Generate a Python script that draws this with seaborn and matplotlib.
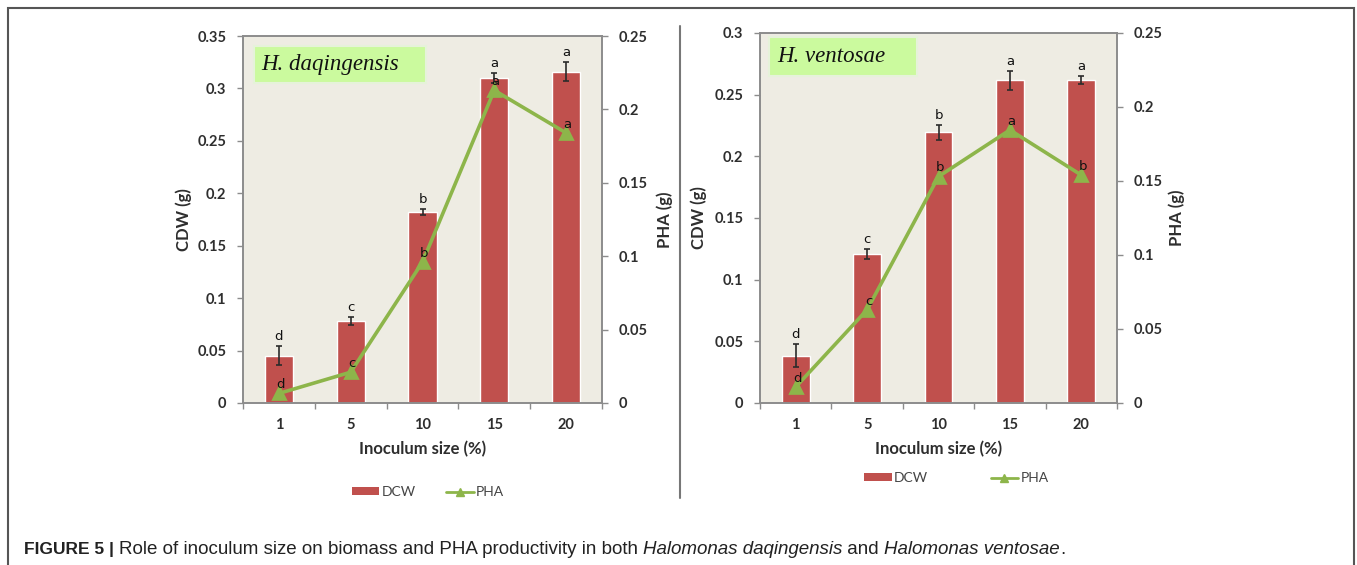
import numpy as np
import pandas as pd
import matplotlib
matplotlib.use("Agg")
import matplotlib.pyplot as plt
import seaborn as sns
from matplotlib.patches import Patch, Rectangle
from matplotlib.lines import Line2D
from matplotlib.ticker import FuncFormatter, MultipleLocator

sns.set_theme(style="white")
plt.rcParams['font.family'] = ['Lato', 'DejaVu Sans']

# ---------------- data ----------------
inoculum = ["1", "5", "10", "15", "20"]

dcw_daq = [0.045, 0.078, 0.182, 0.310, 0.316]
dcw_daq_err = [0.009, 0.004, 0.003, 0.005, 0.009]
pha_daq = [0.0065, 0.021, 0.096, 0.213, 0.184]
dcw_daq_letters = ["d", "c", "b", "a", "a"]
pha_daq_letters = ["d", "c", "b", "a", "a"]

dcw_ven = [0.0385, 0.121, 0.2195, 0.2615, 0.262]
dcw_ven_err = [0.009, 0.004, 0.006, 0.008, 0.003]
pha_ven = [0.0108, 0.063, 0.153, 0.1845, 0.154]
dcw_ven_letters = ["d", "c", "b", "a", "a"]
pha_ven_letters = ["d", "c", "b", "a", "b"]

panels = [
    dict(name="H. daqingensis", dcw=dcw_daq, err=dcw_daq_err, pha=pha_daq,
         l1=dcw_daq_letters, l2=pha_daq_letters, ymax=0.35,
         pos=[243/1357, 162/565, 359/1357, 367/565],
         box=(0.03, 0.873, 0.48, 0.1), leg_x=0.515, leg_y=-0.193, colsp=2.2,
         lp_l=4, lp_r=6),
    dict(name="H. ventosae", dcw=dcw_ven, err=dcw_ven_err, pha=pha_ven,
         l1=dcw_ven_letters, l2=pha_ven_letters, ymax=0.30,
         pos=[760/1357, 162/565, 357/1357, 370/565],
         box=(0.025, 0.885, 0.415, 0.105), leg_x=0.55, leg_y=-0.153, colsp=4.5,
         lp_l=5, lp_r=4),
]

BAR = "#C0504D"
GREEN = "#8DB54A"
BG = "#EEECE3"
TXT = "#2E2E2E"
SPINE = "#8C8C8C"

fig = plt.figure(figsize=(13.57, 5.65), dpi=100)
fig.patch.set_facecolor("white")

fmt = FuncFormatter(lambda v, p: "0" if abs(v) < 1e-9 else ("%g" % round(v, 3)))

for P in panels:
    ax = fig.add_axes(P["pos"])
    ax.set_facecolor(BG)
    df = pd.DataFrame({"x": inoculum, "dcw": P["dcw"]})
    sns.barplot(data=df, x="x", y="dcw", ax=ax, color=BAR, width=0.39,
                saturation=1, errorbar=None, zorder=2)
    xs = np.arange(len(inoculum))
    ax.errorbar(xs, P["dcw"], yerr=P["err"], fmt="none", ecolor="#2b2b2b",
                elinewidth=1.2, capsize=2.5, capthick=1.2, zorder=3)
    ax.set_xlim(-0.5, len(inoculum) - 0.5)
    ax.set_ylim(0, P["ymax"])
    ax.yaxis.set_major_locator(MultipleLocator(0.05))
    ax.yaxis.set_major_formatter(fmt)
    ax.set_xlabel("Inoculum size (%)", fontsize=12, fontweight="bold",
                  color=TXT, labelpad=6)
    ax.set_ylabel("CDW (g)", fontsize=12, fontweight="bold", color=TXT,
                  labelpad=P["lp_l"])
    for s in ax.spines.values():
        s.set_color(SPINE)
        s.set_linewidth(1.2)
    ax.tick_params(axis="y", which="both", left=True, length=4, width=1,
                   color=SPINE, labelsize=10.5, labelcolor=TXT, pad=8)
    ax.tick_params(axis="x", bottom=False, labelsize=10.5, labelcolor=TXT, pad=5)
    for lab in ax.get_xticklabels() + ax.get_yticklabels():
        lab.set_fontweight("bold")
    ax.set_xticks(np.arange(-0.5, len(inoculum)), minor=True)
    ax.tick_params(axis="x", which="minor", bottom=True, length=4, width=1,
                   color=SPINE)

    for i, (v, e, l) in enumerate(zip(P["dcw"], P["err"], P["l1"])):
        ax.text(i, v + e + P["ymax"] * 0.008, l, ha="center", va="bottom",
                fontsize=9.5, color="#111111", family="DejaVu Sans", zorder=6)

    ax2 = ax.twinx()
    dfl = pd.DataFrame({"x": inoculum, "pha": P["pha"]})
    sns.pointplot(data=dfl, x="x", y="pha", ax=ax2, color=GREEN, markers="^",
                  markersize=8, linewidth=2.6, errorbar=None, zorder=4)
    ax2.set_xlim(-0.5, len(inoculum) - 0.5)
    ax2.set_ylim(0, 0.25)
    ax2.yaxis.set_major_locator(MultipleLocator(0.05))
    ax2.yaxis.set_major_formatter(fmt)
    ax2.set_ylabel("PHA (g)", fontsize=12, fontweight="bold", color=TXT,
                   labelpad=P["lp_r"])
    ax2.tick_params(axis="y", right=True, length=4, width=1, color=SPINE,
                    labelsize=10.5, labelcolor=TXT, pad=8)
    for lab in ax2.get_yticklabels():
        lab.set_fontweight("bold")
    for s in ax2.spines.values():
        s.set_color(SPINE)
        s.set_linewidth(1.2)
    ax2.grid(False)
    ax.grid(False)
    for i, (v, l) in enumerate(zip(P["pha"], P["l2"])):
        ax2.text(i + 0.02, v + 0.0015, l, ha="center", va="bottom",
                 fontsize=9.5, color="#111111", family="DejaVu Sans", zorder=6)

    bx = P["box"]
    ax.add_patch(Rectangle((bx[0], bx[1]), bx[2], bx[3], transform=ax.transAxes,
                           facecolor="#CBFA9E", edgecolor="#E6F2DA",
                           linewidth=1.5, zorder=5))
    ax.text(bx[0] + 0.022, bx[1] + bx[3] / 2, P["name"], transform=ax.transAxes,
            ha="left", va="center", fontsize=16.5, style="italic",
            family="Liberation Serif", color="#111111", zorder=6)

    handles = [Patch(facecolor=BAR, edgecolor="none"),
               Line2D([0], [0], color=GREEN, lw=2, marker="^", markersize=6)]
    leg = ax.legend(handles, ["DCW", "PHA"], loc="upper center",
                    bbox_to_anchor=(P["leg_x"], P["leg_y"]), ncol=2,
                    frameon=False, fontsize=10, handlelength=2.0,
                    handleheight=0.5, columnspacing=P["colsp"],
                    handletextpad=0.15)
    for t in leg.get_texts():
        t.set_color("#444444")

# separator & border
fig.add_artist(Line2D([680/1357, 680/1357], [1 - 26/565, 1 - 498/565],
                      transform=fig.transFigure, color="#777777", lw=1.5))
fig.add_artist(Rectangle((8/1357, -0.01), 1346/1357, 1 - 8/565 + 0.01,
                         transform=fig.transFigure, fill=False,
                         edgecolor="#555555", lw=1.5))

# caption, built from consecutive pieces
capfam = "Liberation Sans"
pieces = [("FIGURE 5 | ", "bold", "normal", 12.5),
          ("Role of inoculum size on biomass and PHA productivity in both ", "normal", "normal", 13.5),
          ("Halomonas daqingensis", "normal", "italic", 13.5),
          (" and ", "normal", "normal", 13.5),
          ("Halomonas ventosae", "normal", "italic", 13.5),
          (".", "normal", "normal", 13.5)]
fig.canvas.draw()
renderer = fig.canvas.get_renderer()
xpos = 24
ycap = 565 - 554
for txt, w, st, sz in pieces:
    t = fig.text(xpos / 1357, ycap / 565, txt, fontsize=sz, fontweight=w,
                 style=st, family=capfam, color="#222222", va="baseline",
                 ha="left")
    bb = t.get_window_extent(renderer=renderer)
    xpos += bb.width

fig.savefig("out.png", dpi=100)
